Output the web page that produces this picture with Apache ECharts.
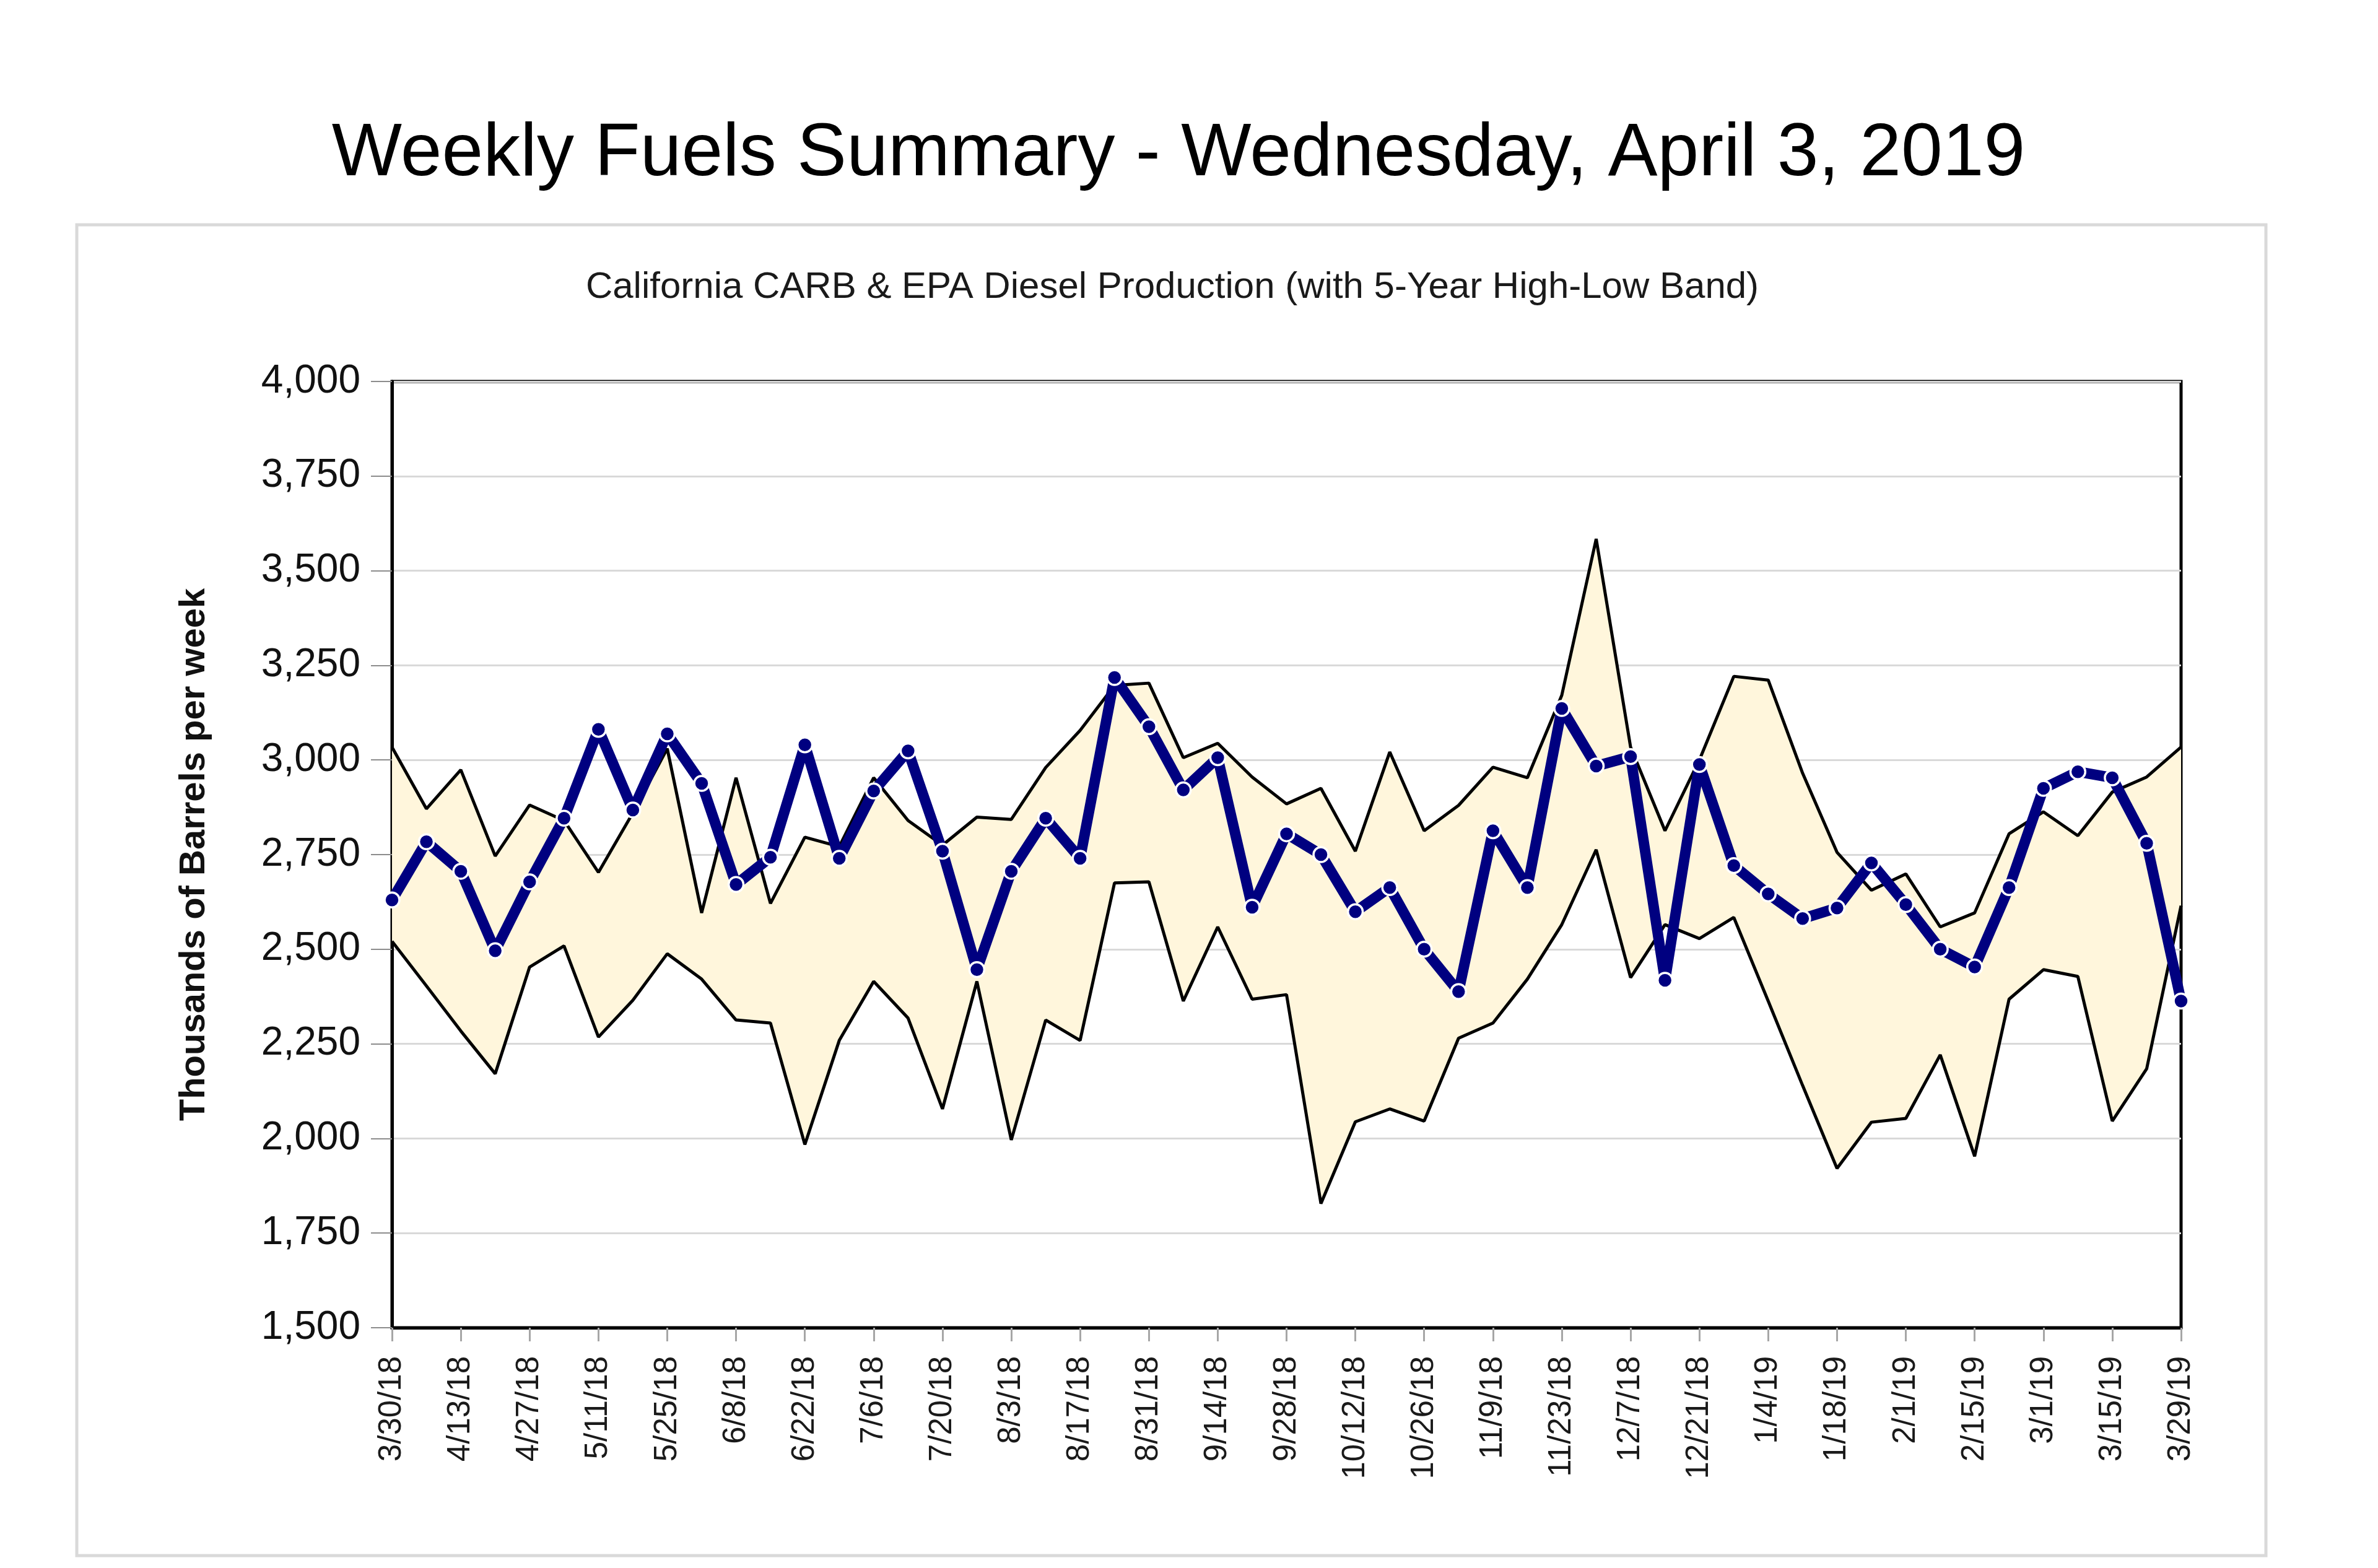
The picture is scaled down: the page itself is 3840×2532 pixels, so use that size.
<!DOCTYPE html>
<html>
<head>
<meta charset="utf-8">
<script src="https://cdn.jsdelivr.net/npm/echarts/dist/echarts.min.js"></script>
<style>
html,body{margin:0;padding:0;background:#ffffff;}
#chart{width:3840px;height:2532px;}
</style>
</head>
<body>
<div id="chart"></div>
<script>
const titleText = 'Weekly Fuels Summary - Wednesday, April 3, 2019';
const subtitleText = 'California CARB & EPA Diesel Production (with 5-Year High-Low Band)';
const yAxisName = 'Thousands of Barrels per week';

const weeks = ['3/30/18','4/6/18','4/13/18','4/20/18','4/27/18','5/4/18','5/11/18','5/18/18','5/25/18','6/1/18',
  '6/8/18','6/15/18','6/22/18','6/29/18','7/6/18','7/13/18','7/20/18','7/27/18','8/3/18','8/10/18',
  '8/17/18','8/24/18','8/31/18','9/7/18','9/14/18','9/21/18','9/28/18','10/5/18','10/12/18','10/19/18',
  '10/26/18','11/2/18','11/9/18','11/16/18','11/23/18','11/30/18','12/7/18','12/14/18','12/21/18','12/28/18',
  '1/4/19','1/11/19','1/18/19','1/25/19','2/1/19','2/8/19','2/15/19','2/22/19','3/1/19','3/8/19',
  '3/15/19','3/22/19','3/29/19'];

const production = [2630,2784,2706,2496,2678,2846,3081,2868,3069,2938,
  2671,2743,3040,2740,2918,3024,2759,2446,2706,2846,
  2740,3218,3088,2921,3006,2611,2805,2750,2599,2663,
  2500,2388,2813,2663,3136,2984,3009,2418,2988,2721,
  2646,2581,2609,2728,2618,2500,2453,2663,2925,2969,
  2953,2780,2363];

const fiveYearHigh = [3034,2871,2974,2746,2881,2840,2703,2860,3030,2596,
  2953,2621,2796,2771,2953,2840,2775,2849,2843,2980,
  3078,3197,3203,3006,3044,2955,2884,2925,2759,3021,
  2813,2880,2981,2953,3171,3584,3034,2813,3000,3221,
  3211,2965,2756,2656,2699,2559,2596,2805,2863,2800,
  2915,2955,3034];

const fiveYearLow = [2521,2403,2284,2171,2453,2509,2268,2365,2488,2421,
  2313,2305,1984,2259,2415,2318,2078,2415,1996,2313,
  2259,2675,2678,2363,2559,2368,2380,1828,2044,2078,
  2046,2265,2305,2421,2565,2763,2425,2565,2528,2584,
  2363,2140,1921,2043,2053,2221,1953,2368,2446,2428,
  2046,2184,2615];

const yMin = 1500, yMax = 4000, yStep = 250;

const bandWidth = fiveYearHigh.map((h, i) => h - fiveYearLow[i]);

const chart = echarts.init(document.getElementById('chart'), null, {renderer: 'canvas'});
const FONT = 'Arial, "Liberation Sans", sans-serif';

chart.setOption({
  animation: false,
  backgroundColor: '#ffffff',
  graphic: [
    {type: 'rect', z: -10, silent: true,
      shape: {x: 124, y: 363, width: 3535, height: 2149},
      style: {fill: '#ffffff', stroke: '#d9d9d9', lineWidth: 5}},
    {type: 'text', x: 1903, y: 250, silent: true,
      style: {text: titleText, fontFamily: FONT, fontSize: 120, fill: '#000000',
        textAlign: 'center', textVerticalAlign: 'middle'}},
    {type: 'text', x: 1893, y: 464, silent: true,
      style: {text: subtitleText, fontFamily: FONT, fontSize: 60, fill: '#1a1a1a',
        textAlign: 'center', textVerticalAlign: 'middle'}}
  ],
  grid: {left: 633, right: 318, top: 616, bottom: 388, show: true,
    borderColor: '#000000', borderWidth: 5, backgroundColor: 'transparent'},
  xAxis: {
    type: 'category', data: weeks, boundaryGap: false,
    axisLine: {show: true, lineStyle: {color: '#000000', width: 5}},
    axisTick: {show: true, interval: 1, length: 22, lineStyle: {color: '#a6a6a6', width: 3}},
    axisLabel: {show: true, interval: 1, rotate: 90, margin: 46, color: '#1a1a1a',
      fontFamily: FONT, fontSize: 51},
    splitLine: {show: false}
  },
  yAxis: {
    type: 'value', min: yMin, max: yMax, interval: yStep,
    name: yAxisName, nameLocation: 'middle', nameGap: 290, nameRotate: 90,
    nameTextStyle: {fontFamily: FONT, fontSize: 58, fontWeight: 'bold', color: '#111111'},
    axisLine: {show: true, lineStyle: {color: '#000000', width: 5}},
    axisTick: {show: true, length: 34, lineStyle: {color: '#8c8c8c', width: 2}},
    axisLabel: {show: true, margin: 51, color: '#111111', fontFamily: FONT, fontSize: 64,
      formatter: v => v.toLocaleString('en-US')},
    splitLine: {show: true, lineStyle: {color: '#d9d9d9', width: 3}}
  },
  series: [
    {name: '5-Year Low', type: 'line', data: fiveYearLow, stack: 'band', symbol: 'none',
      lineStyle: {color: '#000000', width: 5}, z: 3},
    {name: '5-Year Band', type: 'line', data: bandWidth, stack: 'band', symbol: 'none',
      lineStyle: {color: '#000000', width: 5},
      areaStyle: {color: '#fff6dc', opacity: 1}, z: 2},
    {name: 'Production', type: 'line', data: production, symbol: 'circle', symbolSize: 24,
      showAllSymbol: true,
      lineStyle: {color: '#000080', width: 17},
      itemStyle: {color: '#000080', borderColor: '#ffffff', borderWidth: 3.5}, z: 5}
  ]
});
</script>
</body>
</html>
